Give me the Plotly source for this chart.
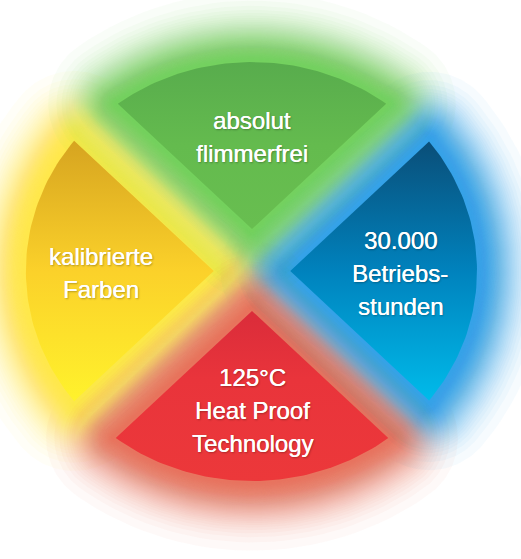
import numpy as np
import plotly.graph_objects as go

# ---- data ----
label_lines = [["absolut", "flimmerfrei"],
               ["30.000", "Betriebs-", "stunden"],
               ["125°C", "Heat Proof", "Technology"],
               ["kalibrierte", "Farben"]]
directions_deg = [90, 0, 270, 180]          # bisector angle of each wedge
radius = [0.995, 1.0, 1.0, 1.005]
tip_offset = [0.20, 0.17, 0.19, 0.17]
label_center = [(0.0, 0.638), (0.658, -0.012), (0.0, -0.664), (-0.671, -0.01)]
line_step = 0.158
# gradient colour stops: bottom -> top
wedge_scales = [
    [[0, "#68be50"], [0.5, "#64bb4e"], [1, "#58ac4d"]],
    [[0, "#00bbea"], [0.5, "#0082bd"], [1, "#0a4e78"]],
    [[0, "#ec383a"], [0.6, "#e9343b"], [1, "#da2c3a"]],
    [[0, "#fff22c"], [0.5, "#fbd12a"], [1, "#d6a420"]],
]
glow_colors = ["122,198,96", "48,160,224", "240,112,82", "253,226,68"]

# pixel geometry
W, H = 521, 559
cx, cy = 252, 271
sx, sy = 225, 210


def wedge(direction, d, R, n=60):
    u = np.array([np.cos(np.radians(direction)), np.sin(np.radians(direction))])
    T = d * u
    corners = []
    for sgn in (-1, 1):
        a = np.radians(direction + sgn * 45)
        v = np.array([np.cos(a), np.sin(a)])
        tv = T @ v
        s = -tv + np.sqrt(tv * tv - d * d + R * R)
        corners.append(T + s * v)
    a0 = np.arctan2(corners[0][1], corners[0][0])
    a1 = np.arctan2(corners[1][1], corners[1][0])
    if a1 < a0:
        a1 += 2 * np.pi
    arc = np.linspace(a0, a1, n)
    pts = [T] + [np.array([R * np.cos(t), R * np.sin(t)]) for t in arc] + [T]
    return np.array(pts)


def dilate(pts, delta_px, n=160):
    # Minkowski dilation of a convex polygon, isotropic in pixel space
    P = pts * np.array([sx, sy])
    out = []
    for th in np.linspace(0, 2 * np.pi, n):
        nv = np.array([np.cos(th), np.sin(th)])
        i = np.argmax(P @ nv)
        out.append(P[i] + delta_px * nv)
    return np.array(out) / np.array([sx, sy])


# glow layer distances giving a gaussian-like fall-off
layer_alpha = 0.045
A0, sigma = 0.93, 40.0
deltas = []
k = 1
while True:
    A = 1 - (1 - layer_alpha) ** k
    if A >= A0:
        break
    deltas.append(sigma * np.sqrt(-np.log(A / A0)))
    k += 1
deltas = sorted([max(dl, 1.0) for dl in deltas], reverse=True)

fig = go.Figure()
base = [wedge(directions_deg[i], tip_offset[i], radius[i]) for i in range(4)]

for dl in deltas:
    for i in range(4):
        g = dilate(base[i], dl)
        fig.add_trace(go.Scatter(x=g[:, 0], y=g[:, 1], mode="lines", fill="toself",
                                 fillcolor=f"rgba({glow_colors[i]},{layer_alpha})",
                                 line=dict(width=0), hoverinfo="skip", showlegend=False))

for i in range(4):
    p = base[i]
    fig.add_trace(go.Scatter(x=p[:, 0], y=p[:, 1], mode="lines", fill="toself",
                             fillgradient=dict(type="vertical", colorscale=wedge_scales[i]),
                             line=dict(width=0), hoverinfo="skip", showlegend=False))

for i in range(4):
    lines = label_lines[i]
    n = len(lines)
    for k, txt in enumerate(lines):
        yk = label_center[i][1] + ((n - 1) / 2 - k) * line_step
        fig.add_annotation(x=label_center[i][0], y=yk, text=txt,
                           showarrow=False, xanchor="center", yanchor="middle",
                           font=dict(family="Liberation Sans, Arial", size=24, color="white",
                                     shadow="0.35px 0 0 #fff, 1px 1px 2px rgba(0,0,0,0.3)"))

fig.update_layout(
    width=W, height=H, margin=dict(l=0, r=0, t=0, b=0),
    paper_bgcolor="white", plot_bgcolor="white",
    xaxis=dict(range=[-cx / sx, (W - cx) / sx], visible=False, fixedrange=True),
    yaxis=dict(range=[-(H - cy) / sy, cy / sy], visible=False, fixedrange=True),
    showlegend=False,
)
fig.write_html("out.html", config={"displayModeBar": False},
               post_script="document.body.style.margin='0';document.body.style.overflow='hidden';")
